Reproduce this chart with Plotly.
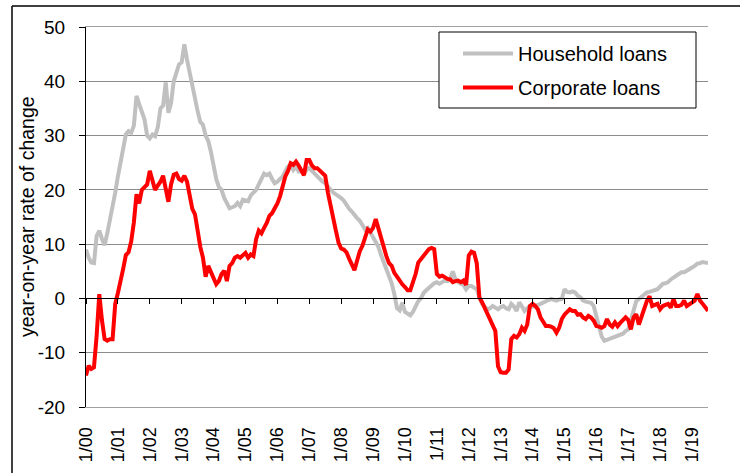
import plotly.graph_objects as go

# ---- data (monthly, Jan 2000 .. Jul 2019) ----
household = [
    # 2000
    9.0, 7.5, 6.6, 6.5, 11.5, 12.5, 11.0, 9.8, 12.0, 14.5, 16.5, 19.5,
    # 2001
    22.5, 25.0, 27.8, 30.2, 30.8, 30.5, 31.8, 37.3, 35.8, 34.2, 33.0, 30.0,
    # 2002
    29.5, 30.2, 29.9, 31.5, 35.0, 35.5, 39.8, 34.2, 36.0, 40.0, 41.6, 43.1,
    # 2003
    43.5, 46.8, 44.0, 41.5, 39.1, 37.3, 34.5, 32.5, 32.0, 30.0, 29.0, 27.0,
    # 2004
    24.5, 22.0, 20.5, 20.0, 18.5, 17.5, 16.6, 16.8, 17.0, 17.6, 17.0, 18.2,
    # 2005
    18.0, 17.9, 19.0, 19.5, 20.0, 21.0, 22.0, 23.0, 22.7, 23.0, 22.0, 21.2,
    # 2006
    21.5, 22.1, 22.5, 23.5, 24.3, 24.7, 23.7, 24.3, 23.4, 23.5, 23.0, 23.7,
    # 2007
    24.0, 23.5, 23.0, 22.5, 21.8, 21.5, 21.2, 20.5, 20.0, 19.5, 19.2, 18.8,
    # 2008
    18.5, 18.0, 17.2, 16.5, 16.0, 15.3, 14.8, 14.3, 13.5, 12.7, 13.0, 12.1,
    # 2009
    11.5, 10.5, 9.5, 8.0, 6.6, 5.5, 4.0, 2.8, 0.8, -1.8, -2.2, -0.8,
    # 2010
    -2.5, -2.8, -3.1, -2.5, -1.5, -0.5, 0.0, 1.0, 1.5, 2.0, 2.5, 2.8,
    # 2011
    3.0, 2.7, 3.0, 3.3, 3.2, 3.6, 5.0, 3.5, 3.0, 2.7, 2.5, 1.7,
    # 2012
    2.3, 2.3, 2.0, 1.7, 0.2, -1.0, -1.5, -2.0, -1.8, -1.4, -1.7, -2.0,
    # 2013
    -1.6, -1.4, -1.8, -2.0, -1.0, -1.5, -2.3, -0.7, -1.5, -2.3, -1.8, -1.4,
    # 2014
    -1.5, -1.4, -1.2, -1.0, -0.7, -0.4, -0.3, -0.1, -0.3, -0.4, -0.2, -0.1,
    # 2015
    1.7, 1.2, 1.1, 1.3, 1.1, 0.5, 0.2, -0.4, -0.6, -0.7, -0.8, -1.4,
    # 2016
    -3.5, -5.5, -7.0, -7.8, -7.6, -7.5, -7.3, -7.2, -6.9, -6.7, -6.5, -6.0,
    # 2017
    -5.7, -4.0, -2.0, -0.5, -0.1, 0.3, 0.5, 1.1, 1.2, 1.4, 1.5, 1.7,
    # 2018
    2.2, 2.7, 2.8, 3.0, 3.5, 3.9, 4.3, 4.5, 4.8, 4.8, 5.1, 5.5,
    # 2019
    5.7, 6.0, 6.4, 6.5, 6.7, 6.6, 6.5,
]

corporate = [
    # 2000
    -14.2, -12.4, -13.0, -12.7, -6.9, 0.8, -4.0, -7.5, -7.8, -7.5, -7.5, -1.0,
    # 2001
    1.0, 3.0, 5.5, 8.0, 8.5, 10.5, 14.0, 19.2, 17.5, 20.0, 20.5, 21.0,
    # 2002
    23.5, 21.5, 20.0, 20.8, 21.5, 22.6, 20.0, 17.8, 21.0, 22.8, 23.0, 22.0,
    # 2003
    21.7, 22.6, 21.5, 19.0, 16.5, 15.5, 12.1, 9.5, 7.5, 4.0, 6.0, 5.0,
    # 2004
    4.0, 2.6, 3.2, 4.5, 5.1, 3.2, 6.0, 6.5, 7.5, 7.8, 7.5, 8.0,
    # 2005
    8.4, 7.5, 8.1, 7.8, 10.9, 12.5, 12.0, 13.0, 13.9, 15.2, 15.7, 16.6,
    # 2006
    17.5, 18.8, 21.0, 22.5, 23.5, 24.9, 24.6, 25.2, 24.5, 23.5, 22.7, 25.5,
    # 2007
    25.5, 24.5, 24.0, 24.0, 23.5, 23.0, 22.6, 19.5, 17.0, 14.2, 12.5, 10.3,
    # 2008
    9.2, 9.0, 8.5, 7.3, 6.0, 5.2, 7.0, 8.7, 9.7, 11.5, 12.7, 12.3,
    # 2009
    13.0, 14.6, 12.7, 11.0, 9.5, 7.8, 6.5, 6.0, 4.7, 4.0, 3.2, 2.6,
    # 2010
    2.1, 1.5, 1.5, 3.0, 4.5, 6.6, 7.2, 8.0, 8.5, 9.1, 9.3, 9.1,
    # 2011
    4.5, 4.0, 4.2, 3.8, 3.6, 3.5, 3.0, 3.2, 3.3, 3.0, 3.3, 2.5,
    # 2012
    7.9, 8.6, 8.4, 6.5, 0.2, -0.7, -1.8, -2.6, -3.8, -5.0, -6.0, -12.5,
    # 2013
    -13.6, -13.7, -13.7, -13.1, -7.5, -6.9, -7.2, -6.6, -5.4, -6.0, -4.8, -1.4,
    # 2014
    -1.0, -1.4, -2.0, -3.5, -4.5, -5.1, -5.1, -5.2, -5.5, -6.3, -5.4, -3.8,
    # 2015
    -3.0, -2.5, -2.0, -2.3, -2.3, -3.0, -2.9, -3.5, -3.8, -3.2, -3.5, -4.1,
    # 2016
    -5.1, -5.2, -5.4, -5.1, -3.8, -4.8, -5.2, -4.4, -5.1, -4.5, -4.1, -3.5,
    # 2017
    -4.0, -5.7, -3.5, -2.9, -4.8, -3.2, -2.0, -0.5, 0.4, -1.4, -1.2, -1.0,
    # 2018
    -2.0, -1.4, -1.2, -1.0, -1.7, -0.1, -1.4, -1.4, -1.2, -0.4, -1.4, -1.0,
    # 2019
    -0.8, -0.4, 0.8, -0.4, -1.0, -1.7, -2.3,
]

months = list(range(len(household)))  # month index, 0 = Jan 2000
tick_months = list(range(0, 229, 12))
tick_labels = ["1/%02d" % (y % 100) for y in range(2000, 2020)]
y_ticks = [-20, -10, 0, 10, 20, 30, 40, 50]
y_tick_labels = ["-20", "-10", "0", "10", "20", "30", "40", "50"]

FONT = "Liberation Sans, Arial, sans-serif"

# plot area in pixels: x 86..708, y 27..407
L, R, T, B = 86, 708, 27, 407
W, H = R - L, B - T


def px_x(p):
    return (p - L) / W


def px_y(p):
    return (B - p) / H


fig = go.Figure()
fig.add_trace(go.Scatter(
    x=months, y=household, mode="lines", name="Household loans",
    line=dict(color="#C0C0C0", width=4), legendgroup="a",
))
fig.add_trace(go.Scatter(
    x=months, y=corporate, mode="lines", name="Corporate loans",
    line=dict(color="#FF0000", width=4), legendgroup="b",
))
# helper trace so that the zero-line tick axis is rendered
fig.add_trace(go.Scatter(
    x=months[:1], y=household[:1], mode="lines", xaxis="x2",
    showlegend=False, hoverinfo="skip", line=dict(width=0),
))

fig.update_layout(
    template="none",
    width=740, height=473,
    margin=dict(l=L, r=740 - R, t=T, b=473 - B, autoexpand=False),
    paper_bgcolor="white", plot_bgcolor="white",
    font=dict(family=FONT, color="#000000", size=18),
    xaxis=dict(
        range=[0, 234], tickmode="array", tickvals=tick_months, ticktext=tick_labels,
        tickangle=-90, ticks="", showgrid=False, zeroline=False, automargin=False,
        showline=True, linecolor="#A0A0A0", linewidth=1, mirror=True,
        tickfont=dict(size=18), ticklabelstandoff=12,
    ),
    xaxis2=dict(
        range=[0, 234], tickmode="array", tickvals=tick_months,
        overlaying="x", anchor="free", position=20 / 70, side="bottom",
        showticklabels=False, ticks="outside", ticklen=5, tickcolor="#000000",
        showline=True, linecolor="#000000", linewidth=1, showgrid=False,
        zeroline=False, automargin=False,
    ),
    yaxis=dict(
        range=[-20, 50], tickmode="array", tickvals=y_ticks, ticktext=y_tick_labels,
        automargin=False,
        showgrid=True, gridcolor="#8C8C8C", gridwidth=1,
        zeroline=False, showline=True, linecolor="#000000", linewidth=1,
        ticks="outside", ticklen=6, tickcolor="#000000",
        tickfont=dict(size=19), ticklabelstandoff=10,
    ),
    legend=dict(
        x=px_x(458), y=px_y(34), xanchor="left", yanchor="top",
        bgcolor="rgba(0,0,0,0)", borderwidth=0,
        font=dict(size=20), tracegroupgap=5, traceorder="grouped",
        itemwidth=50,
    ),
    annotations=[
        dict(text="year-on-year rate of change", xref="paper", yref="paper",
             x=px_x(27), y=px_y(217), xanchor="center", yanchor="middle",
             textangle=-90, showarrow=False, font=dict(size=19.5)),
    ],
    shapes=[
        dict(type="rect", xref="paper", yref="paper", layer="above",
             x0=px_x(439), x1=px_x(696), y0=px_y(32), y1=px_y(108),
             fillcolor="white", line=dict(color="#000000", width=1)),
        dict(type="line", xref="paper", yref="paper",
             x0=px_x(12), x1=px_x(740), y0=px_y(6), y1=px_y(6),
             line=dict(color="#000000", width=1.5)),
        dict(type="line", xref="paper", yref="paper",
             x0=px_x(12), x1=px_x(12), y0=px_y(6), y1=px_y(473),
             line=dict(color="#000000", width=1.5)),
    ],
    showlegend=True,
)

fig.write_html("out.html", config={"displayModeBar": False},
               post_script="document.body.style.margin='0';")
